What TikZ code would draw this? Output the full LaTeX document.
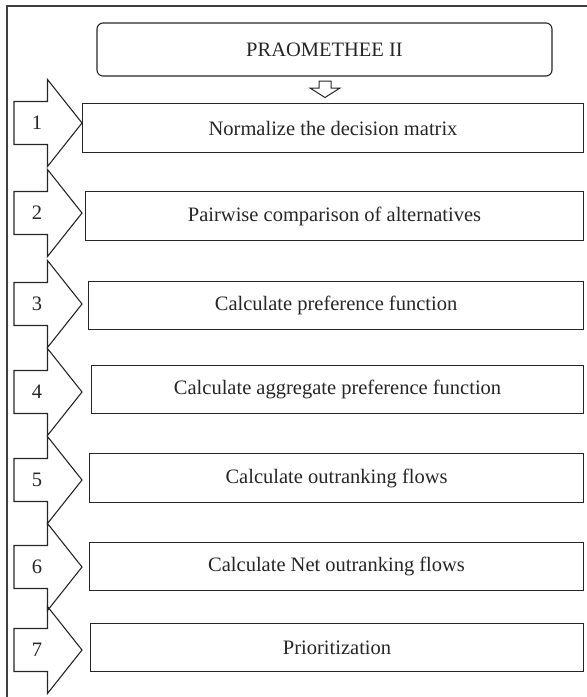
\documentclass[tikz,border=0pt]{standalone}
\usepackage{fontspec}
\setmainfont{Liberation Serif}
\begin{document}
\begin{tikzpicture}[x=1pt,y=-1pt,
  line join=miter,
  frm/.style={draw=black!75,line width=1.2pt},
  shp/.style={draw=black!85,line width=1.1pt},
  stepbox/.style={shp,rectangle,anchor=north west,inner sep=0pt,
    font=\fontsize{20.5}{24}\selectfont,text=black!85},
  numlab/.style={font=\fontsize{20.5}{24}\selectfont,text=black!85,inner sep=0pt}]
\useasboundingbox (0,0) rectangle (587,697);
% outer frame
\draw[frm] (587,6) -- (7,6) -- (7,697);
% title box
\node[shp,rounded corners=6pt,minimum width=455pt,minimum height=53pt,
  font=\fontsize{20.5}{24}\selectfont,text=black!85] (title) at (324.5,49.5) {PRAOMETHEE II};
% small hollow down arrow
\draw[shp,line width=1pt] (319,81) -- (331,81) -- (331,88) -- (340,88) -- (325,97.5)
  -- (310,88) -- (319,88) -- cycle;
% step boxes: left, top, bottom, text
\foreach \i/\l/\t/\b/\c/\txt in {
  1/82/103/152/123/{Normalize the decision matrix},
  2/85/191/240/213/{Pairwise comparison of alternatives},
  3/88/281/329/304/{Calculate preference function},
  4/91/365/413/392/{Calculate aggregate preference function},
  5/89/453/502/480/{Calculate outranking flows},
  6/89/542/590/567/{Calculate Net outranking flows},
  7/90/623/671/650/{Prioritization}} {
  \pgfmathsetmacro{\w}{583-\l}
  \pgfmathsetmacro{\h}{\b-\t}
  \node[stepbox,minimum width=\w pt,minimum height=\h pt] (box\i) at (\l,\t) {\txt};
  % block arrow
  \draw[shp] (14,\c-21.5) -- (47.5,\c-21.5) -- (47.5,\c-43.5) -- (82,\c)
    -- (47.5,\c+43.5) -- (47.5,\c+21.5) -- (14,\c+21.5) -- cycle;
  \node[numlab] (num\i) at (37,\c) {\i};
}
\end{tikzpicture}
\end{document}
